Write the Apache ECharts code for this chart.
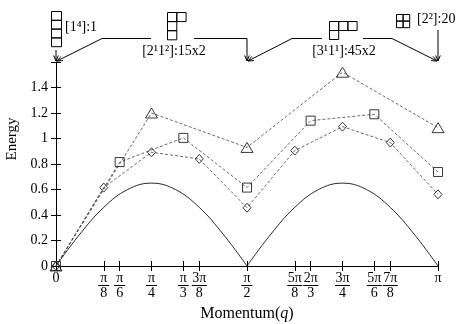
<!DOCTYPE html>
<html>
<head>
<meta charset="utf-8">
<script src="https://cdn.jsdelivr.net/npm/echarts@6/dist/echarts.min.js"></script>
<style>
html, body { margin: 0; padding: 0; background: #fff; }
#main { width: 469px; height: 324px; }
</style>
</head>
<body>
<div id="main"></div>
<script>
var PI = Math.PI;
var FONT = '"Liberation Serif", "DejaVu Serif", serif';

// momentum ticks (q) and their labels, written as fraction parts
var tickValues = [0, PI/8, PI/6, PI/4, PI/3, 3*PI/8, PI/2, 5*PI/8, 2*PI/3, 3*PI/4, 5*PI/6, 7*PI/8, PI];
var tickNum = ['0', 'π', 'π', 'π', 'π', '3π', 'π', '5π', '2π', '3π', '5π', '7π', 'π'];
var tickDen = ['', '8', '6', '4', '3', '8', '2', '8', '3', '4', '6', '8', ''];

// [3^1 1^1] states (triangles)
var triQ = [0, PI/4, PI/2, 3*PI/4, PI];
var triE = [0, 1.20, 0.93, 1.52, 1.085];
// [2^1 1^2] states (squares)
var sqQ = [0, PI/6, PI/3, PI/2, 2*PI/3, 5*PI/6, PI];
var sqE = [0, 0.815, 1.005, 0.615, 1.14, 1.19, 0.737];
// diamonds
var diaQ = [0, PI/8, PI/4, 3*PI/8, PI/2, 5*PI/8, 3*PI/4, 7*PI/8, PI];
var diaE = [0, 0.615, 0.892, 0.84, 0.457, 0.905, 1.093, 0.968, 0.562];
var curveQ = [0, PI/16, PI/8, 3*PI/16, PI/4, 5*PI/16, 3*PI/8, 7*PI/16, PI/2,
              9*PI/16, 5*PI/8, 11*PI/16, 3*PI/4, 13*PI/16, 7*PI/8, 15*PI/16, PI];
var curveE = [0, 0.25, 0.46, 0.60, 0.65, 0.60, 0.46, 0.25, 0,
              0.25, 0.46, 0.60, 0.65, 0.60, 0.46, 0.25, 0];

function pairs(xs, ys, from, to) {
  var out = [];
  for (var i = from; i <= to; i++) out.push([xs[i], ys[i]]);
  return out;
}

function qLabel(v) {
  var k = 0;
  for (var i = 0; i < tickValues.length; i++) {
    if (Math.abs(tickValues[i] - v) < 1e-6) k = i;
  }
  if (!tickDen[k]) return '{w|' + tickNum[k] + '}';
  var bar = tickNum[k].length > 1 ? 'bl' : 'bs';
  return '{n|' + tickNum[k] + '}\n{' + bar + '| }\n{d|' + tickDen[k] + '}';
}

var dashLine = { color: '#444', width: 0.8, type: [3, 2] };
var hollow = { color: 'rgba(0,0,0,0)', borderColor: '#222', borderWidth: 0.9 };

var chart = echarts.init(document.getElementById('main'));

chart.setOption({
  animation: false,
  backgroundColor: '#fff',
  grid: { left: 56, right: 31, top: 62, bottom: 58, containLabel: false, outerBoundsMode: 'none' },
  xAxis: [{
    type: 'value', min: 0, max: PI,
    name: '{a|Momentum(}{i|q}{a|)}',
    nameLocation: 'middle', nameGap: 30,
    nameTextStyle: {
      rich: {
        a: { fontFamily: FONT, fontSize: 16, color: '#000' },
        i: { fontFamily: FONT, fontSize: 16, fontStyle: 'italic', color: '#000' }
      }
    },
    splitLine: { show: false },
    axisLine: { lineStyle: { color: '#000', width: 1 } },
    axisTick: { customValues: tickValues, inside: true, length: 5, lineStyle: { color: '#000' } },
    axisLabel: {
      customValues: tickValues, margin: 6, formatter: qLabel,
      rich: {
        w: { fontFamily: FONT, fontSize: 14, lineHeight: 12, color: '#000' },
        n: { fontFamily: FONT, fontSize: 14, lineHeight: 12, color: '#000', align: 'center' },
        d: { fontFamily: FONT, fontSize: 14, lineHeight: 13, color: '#000', align: 'center' },
        bs: { fontSize: 1, width: 11, height: 1, lineHeight: 3, backgroundColor: '#000', align: 'center' },
        bl: { fontSize: 1, width: 15, height: 1, lineHeight: 3, backgroundColor: '#000', align: 'center' }
      }
    }
  }, {
    type: 'value', min: 0, max: PI, position: 'top',
    splitLine: { show: false },
    axisLine: { lineStyle: { color: '#000', width: 1 } },
    axisTick: { customValues: tickValues, inside: true, length: 5, lineStyle: { color: '#000' } },
    axisLabel: { show: false }
  }],
  yAxis: [{
    type: 'value', min: 0, max: 1.6, interval: 0.2,
    name: 'Energy', nameLocation: 'middle', nameRotate: 90, nameGap: 34,
    nameTextStyle: { fontFamily: FONT, fontSize: 15, color: '#000', padding: [0, 0, 0, 50] },
    splitLine: { show: false },
    axisLine: { show: true, lineStyle: { color: '#000', width: 1 } },
    axisTick: { inside: true, length: 5, lineStyle: { color: '#000' } },
    axisLabel: {
      margin: 8, fontFamily: FONT, fontSize: 14, color: '#000',
      formatter: function (v) {
        if (v > 1.55) return '';
        return String(Math.round(v * 10) / 10);
      }
    }
  }, {
    type: 'value', min: 0, max: 1.6, interval: 0.2, position: 'right',
    splitLine: { show: false },
    axisLine: { show: true, lineStyle: { color: '#000', width: 1 } },
    axisTick: { inside: true, length: 5, lineStyle: { color: '#000' } },
    axisLabel: { show: false }
  }],
  series: [
    {
      name: 'lower1', type: 'line', data: pairs(curveQ, curveE, 0, 8), smooth: 0.4,
      symbol: 'none', lineStyle: { color: '#111', width: 0.9 }
    },
    {
      name: 'lower2', type: 'line', data: pairs(curveQ, curveE, 8, 16), smooth: 0.4,
      symbol: 'none', lineStyle: { color: '#111', width: 0.9 }
    },
    {
      name: 'diamond', type: 'line', data: pairs(diaQ, diaE, 0, diaQ.length - 1),
      symbol: 'diamond', symbolSize: [8, 9], showAllSymbol: true,
      lineStyle: dashLine, itemStyle: hollow
    },
    {
      name: 'square', type: 'line', data: pairs(sqQ, sqE, 0, sqQ.length - 1),
      symbol: 'rect', symbolSize: 9, showAllSymbol: true,
      lineStyle: dashLine, itemStyle: hollow
    },
    {
      name: 'triangle', type: 'line', data: pairs(triQ, triE, 0, triQ.length - 1),
      symbol: 'triangle', symbolSize: [12, 10], showAllSymbol: true,
      lineStyle: dashLine, itemStyle: hollow
    }
  ]
});

// Young diagram annotations above the plot
var LS = { stroke: '#000', fill: null, lineWidth: 1 };
var TXT = '14px ' + FONT;

function young(x, y, rows, cw, ch) {
  var els = [];
  for (var r = 0; r < rows.length; r++) {
    for (var c = 0; c < rows[r]; c++) {
      els.push({ type: 'rect', shape: { x: x + c * cw, y: y + r * ch, width: cw, height: ch },
        style: { stroke: '#000', fill: null, lineWidth: 1 } });
    }
  }
  return els;
}

function arrow(pts) {
  var a = pts[pts.length - 2], b = pts[pts.length - 1];
  var ang = Math.atan2(b[1] - a[1], b[0] - a[0]);
  var h = 6, w = 0.4;
  var p1 = [b[0] - h * Math.cos(ang - w), b[1] - h * Math.sin(ang - w)];
  var p2 = [b[0] - h * Math.cos(ang + w), b[1] - h * Math.sin(ang + w)];
  return [
    { type: 'polyline', shape: { points: pts }, style: LS },
    { type: 'polyline', shape: { points: [p1, b, p2] }, style: LS }
  ];
}

function label(x, y, text, align) {
  return { type: 'text', x: x, y: y,
    style: { text: text, font: TXT, fill: '#000', align: align || 'left', verticalAlign: 'middle' } };
}

var x0 = chart.convertToPixel({ xAxisIndex: 0 }, 0);
var xh = chart.convertToPixel({ xAxisIndex: 0 }, PI / 2);
var xp = chart.convertToPixel({ xAxisIndex: 0 }, PI);
var yt = chart.convertToPixel({ yAxisIndex: 0 }, 1.6) - 1;

var g = [];
g = g.concat(young(51.5, 11.5, [1, 1, 1, 1], 10, 8.8));
g.push(label(65, 27, '[1⁴]:1'));
g = g.concat(arrow([[x0, 50], [x0, yt]]));

g = g.concat(young(167.5, 12.5, [2, 1, 1], 9.3, 9.1));
g.push(label(174, 51, '[2¹1²]:15x2', 'center'));
g = g.concat(arrow([[151, 38.5], [102, 38.5], [x0 + 1, yt]]));
g = g.concat(arrow([[194, 38.5], [xh, 38.5], [xh, yt]]));

g = g.concat(young(329.5, 21.5, [3, 1], 9.2, 9));
g.push(label(344, 51, '[3¹1¹]:45x2', 'center'));
g = g.concat(arrow([[322, 38.5], [292, 38.5], [xh + 1, yt]]));
g = g.concat(arrow([[363, 38.5], [392, 38.5], [xp - 1, yt]]));

g = g.concat(young(396.5, 14.5, [2, 2], 6.6, 6.6));
g.push(label(417, 19, '[2²]:20'));
g = g.concat(arrow([[xp, 30], [xp, yt]]));

chart.setOption({ graphic: { elements: g } });
</script>
</body>
</html>
